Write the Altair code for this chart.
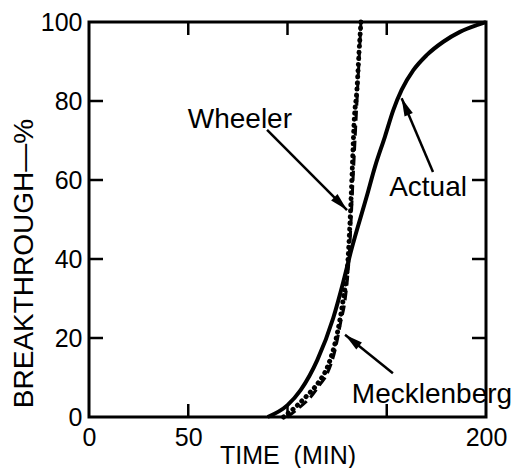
import math
import altair as alt
import pandas as pd

# ---- data ----
actual_t = [90, 100, 106.6, 115, 123, 128, 132, 140, 144.1, 149.1, 153.3, 157.5, 163.4, 170.1, 178.5, 186.9, 195.3, 200]
actual_pct = [0, 3, 6.8, 14.4, 25, 34, 42, 56, 63.4, 71, 77.7, 82.8, 87.8, 91.6, 95, 97.5, 99.2, 100]

wheeler_t = [98, 104, 110, 116, 120, 125, 128, 130.5, 132, 133, 133.5, 135, 136, 137]
wheeler_pct = [0, 2.5, 5.5, 9, 12.5, 21, 29.6, 40, 55, 67.6, 74, 83, 92, 100]

meck_t = [100, 105, 111.6, 116, 120, 124, 126.8, 129, 131, 133, 135, 137]
meck_pct = [0, 2, 5, 8, 11, 17, 24, 29.6, 40, 60, 80, 100]

x_label_values = [0, 50, 200]
x_tick_values = [50, 100, 150]
y_values = [0, 20, 40, 60, 80, 100]
y_tick_values = [20, 40, 60, 80]

label_names = ["Wheeler", "Actual", "Mecklenberg"]
label_t = [76, 170.8, 172.8]
label_pct = [75.2, 58, 5.6]
arrow_tail_t = [89.7, 173.3, 153.1]
arrow_tail_pct = [72.7, 62, 11.1]
arrow_tip_t = [130, 157.5, 129]
arrow_tip_pct = [52.4, 80.7, 20.8]

# ---- layout ----
W, H = 397, 395
PX_X = W / 200.0
PX_Y = H / 100.0
FONT = "Liberation Sans"

curves = pd.concat([
    pd.DataFrame({"t": actual_t, "p": actual_pct, "s": "Actual"}),
    pd.DataFrame({"t": wheeler_t, "p": wheeler_pct, "s": "Wheeler"}),
    pd.DataFrame({"t": meck_t, "p": meck_pct, "s": "Mecklenberg"}),
])

angles = []
for x0, y0, x1, y1 in zip(arrow_tail_t, arrow_tail_pct, arrow_tip_t, arrow_tip_pct):
    dx = (x1 - x0) * PX_X
    dy = -(y1 - y0) * PX_Y
    angles.append(math.degrees(math.atan2(dx, -dy)) % 360)

ann = pd.DataFrame({
    "name": label_names, "lt": label_t, "lp": label_pct,
    "t0": arrow_tail_t, "p0": arrow_tail_pct,
    "t1": arrow_tip_t, "p1": arrow_tip_pct, "ang": angles,
})

xs = alt.Scale(domain=[0, 200], nice=False)
ys = alt.Scale(domain=[0, 100], nice=False)

x_axis = alt.Axis(values=x_label_values, ticks=False, domain=False, grid=False, labelFlush=False,
                  labelFont=FONT, labelFontSize=25, labelColor="black", labelPadding=8,
                  title="TIME\u00a0\u00a0(MIN)", titleFont=FONT, titleFontSize=25, titleFontWeight="normal",
                  titleColor="black", titleX=W / 2, titleY=46, titleBaseline="alphabetic",
                  titleAlign="center")
y_axis = alt.Axis(values=y_values, ticks=False, domain=False, grid=False, labelFlush=False,
                  labelFont=FONT, labelFontSize=25, labelColor="black", labelPadding=7,
                  title="BREAKTHROUGH—%", titleFont=FONT, titleFontSize=28, titleFontWeight="normal",
                  titleColor="black", titleAngle=270, titleX=-57, titleY=241,
                  titleBaseline="alphabetic", titleAlign="center")

base = alt.Chart(curves)

meck = base.transform_filter(alt.datum.s == "Mecklenberg").mark_line(
    color="black", strokeWidth=3, strokeDash=[10, 5], interpolate="monotone"
).encode(x=alt.X("t:Q", scale=xs, axis=x_axis), y=alt.Y("p:Q", scale=ys, axis=y_axis), order="t:Q")

actual = base.transform_filter(alt.datum.s == "Actual").mark_line(
    color="black", strokeWidth=4, interpolate="monotone"
).encode(x=alt.X("t:Q", scale=xs), y=alt.Y("p:Q", scale=ys), order="t:Q")

wheeler = base.transform_filter(alt.datum.s == "Wheeler").mark_line(
    color="black", strokeWidth=5, strokeDash=[0.1, 6], strokeCap="round", interpolate="monotone"
).encode(x=alt.X("t:Q", scale=xs), y=alt.Y("p:Q", scale=ys), order="t:Q")

# inward ticks on all four sides
xt = alt.Chart(pd.DataFrame({"v": x_tick_values}))
yt = alt.Chart(pd.DataFrame({"v": y_tick_values}))
tick_style = dict(color="black", strokeWidth=2.5)
ticks_bottom = xt.mark_rule(**tick_style).encode(x=alt.X("v:Q", scale=xs), y=alt.value(H), y2=alt.value(H - 13))
ticks_top = xt.mark_rule(**tick_style).encode(x=alt.X("v:Q", scale=xs), y=alt.value(0), y2=alt.value(13))
ticks_left = yt.mark_rule(**tick_style).encode(y=alt.Y("v:Q", scale=ys), x=alt.value(0), x2=alt.value(14))
ticks_right = yt.mark_rule(**tick_style).encode(y=alt.Y("v:Q", scale=ys), x=alt.value(W), x2=alt.value(W - 14))

a = alt.Chart(ann)
arrow_lines = a.mark_rule(color="black", strokeWidth=2.5).encode(
    x=alt.X("t0:Q", scale=xs), y=alt.Y("p0:Q", scale=ys),
    x2="t1:Q", y2="p1:Q")
arrow_heads = a.mark_point(
    shape="M0,0 L0.45,1.8 L-0.45,1.8 Z", filled=True, color="black", opacity=1, size=400
).encode(x=alt.X("t1:Q", scale=xs), y=alt.Y("p1:Q", scale=ys), angle=alt.Angle("ang:Q", scale=None))
labels = a.mark_text(font=FONT, fontSize=28, color="black", align="center", baseline="middle").encode(
    x=alt.X("lt:Q", scale=xs), y=alt.Y("lp:Q", scale=ys), text="name:N")

chart = alt.layer(
    meck, actual, wheeler,
    ticks_bottom, ticks_top, ticks_left, ticks_right,
    arrow_lines, arrow_heads, labels,
).properties(
    width=W, height=H,
    autosize=alt.AutoSizeParams(type="none"),
    padding={"left": 81, "top": 14, "right": 28, "bottom": 51},
    background="white",
).configure_view(stroke="black", strokeWidth=3)

chart.save("out.html", embed_options={"renderer": "svg", "actions": False})
